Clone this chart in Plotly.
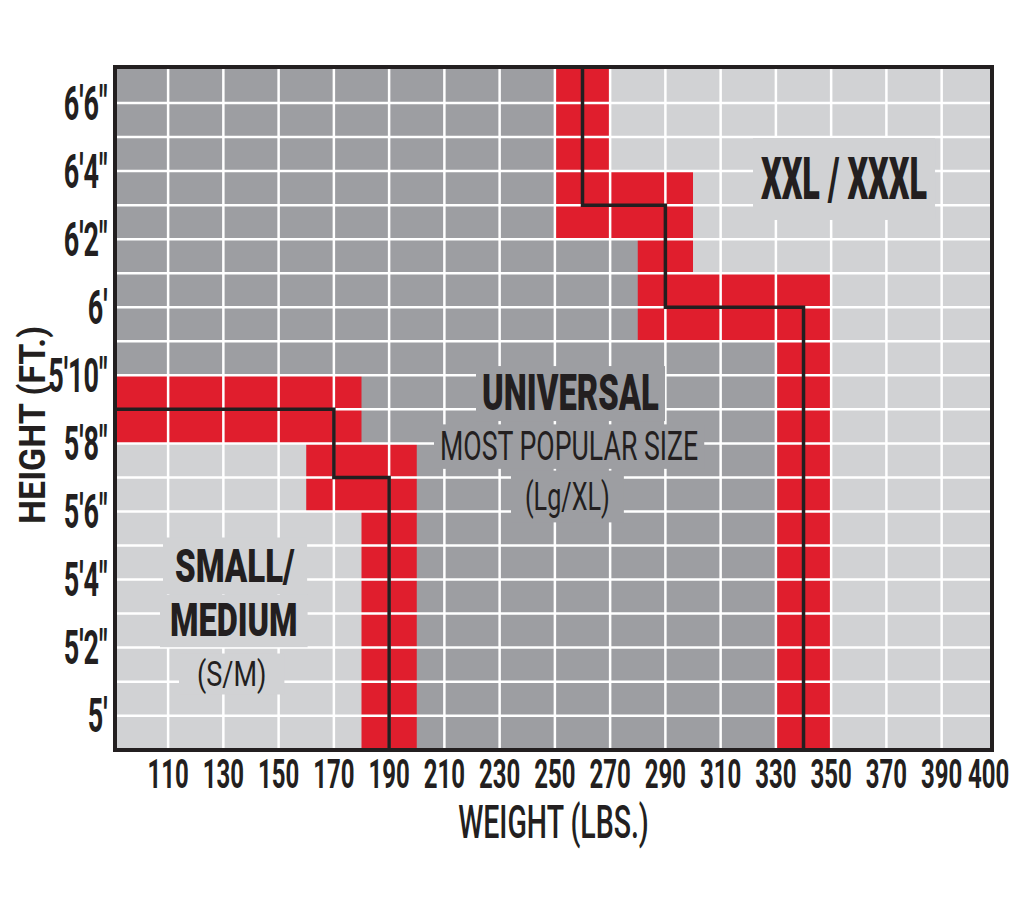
import json
import plotly.graph_objects as go

# ---------------- data ----------------
# axis extents (lbs / inches)
W_MIN, W_MAX = 91.5, 407.5
H_MIN, H_MAX = 59.05, 79.0

weight_ticks = [110, 130, 150, 170, 190, 210, 230, 250, 270, 290, 310, 330, 350, 370, 390, 407]
weight_tick_labels = ["110", "130", "150", "170", "190", "210", "230", "250", "270", "290",
                      "310", "330", "350", "370", "390", "400"]
height_ticks = [60, 62, 64, 66, 68, 70, 72, 74, 76, 78]
height_tick_labels = ["5'", "5'2\"", "5'4\"", "5'6\"", "5'8\"", "5'10\"", "6'", "6'2\"", "6'4\"", "6'6\""]

grid_weights = [110, 130, 150, 170, 190, 210, 230, 250, 270, 290, 310, 330, 350, 370, 390]
grid_heights = [60, 61, 62, 63, 64, 65, 66, 67, 68, 69, 70, 71, 72, 73, 74, 75, 76, 77, 78]

# size boundaries (weight lbs, height inches)
sm_line_w = [90, 170, 170, 190, 190]
sm_line_h = [69, 69, 67, 67, 59]
xxl_line_w = [260, 260, 290, 290, 340, 340]
xxl_line_h = [79, 75, 75, 72, 72, 59]

# red transition bands: weight from/to, height from/to
red_w0 = [90, 160, 180, 250, 250, 280, 280, 330]
red_w1 = [180, 200, 200, 270, 300, 300, 350, 350]
red_h0 = [68, 66, 59, 74, 74, 71, 71, 59]
red_h1 = [70, 68, 66, 79, 76, 76, 73, 73]

# region labels
label_texts = ["SMALL/", "MEDIUM", "(S/M)", "XXL / XXXL", "UNIVERSAL", "MOST POPULAR SIZE", "(Lg/XL)"]
label_w = [134.2, 133.7, 133.1, 354.8, 255.5, 255.1, 254.4]
label_h = [64.37, 62.77, 61.23, 75.77, 69.47, 67.92, 66.43]

# ---------------- style ----------------
DARK = "#9d9ea2"
LIGHT = "#d1d2d4"
RED = "#e01e2d"
INK = "#231f20"
FONT = "Roboto, Liberation Sans, sans-serif"

label_size = [33, 32.5, 27, 32.4, 32.8, 26.7, 25.2]
label_weight = [900, 900, 400, 900, 900, 400, 400]
label_bg = [LIGHT, LIGHT, LIGHT, LIGHT, DARK, DARK, DARK]
label_stretch = [1.4, 1.4, 1.3, 1.82, 1.5, 1.5, 1.55]   # vertical stretch (tall lettering)
label_pad_px = [[12, 12], [10, 10], [18, 8], [8, 20], [6, 10], [6, 8], [14, 12]]

fig = go.Figure()

# S/M light region (below / left of boundary)
fig.add_trace(go.Scatter(
    x=sm_line_w + [sm_line_w[0]], y=sm_line_h + [sm_line_h[-1]],
    fill="toself", fillcolor=LIGHT, mode="none", hoverinfo="skip", showlegend=False))

# XXL light region (right / above boundary)
fig.add_trace(go.Scatter(
    x=xxl_line_w + [W_MAX + 5, W_MAX + 5], y=xxl_line_h + [xxl_line_h[-1], xxl_line_h[0]],
    fill="toself", fillcolor=LIGHT, mode="none", hoverinfo="skip", showlegend=False))

# red bands
rx, ry = [], []
for w0, w1, h0, h1 in zip(red_w0, red_w1, red_h0, red_h1):
    rx += [w0, w1, w1, w0, w0, None]
    ry += [h0, h0, h1, h1, h0, None]
fig.add_trace(go.Scatter(x=rx, y=ry, fill="toself", fillcolor=RED, mode="none",
                         hoverinfo="skip", showlegend=False))

# white grid
gx, gy = [], []
for w in grid_weights:
    gx += [w, w, None]
    gy += [H_MIN - 1, H_MAX + 1, None]
for h in grid_heights:
    gx += [W_MIN - 5, W_MAX + 5, None]
    gy += [h, h, None]
fig.add_trace(go.Scatter(x=gx, y=gy, mode="lines", line=dict(color="white", width=2.5),
                         hoverinfo="skip", showlegend=False))

# boundary lines
for lw, lh in [(sm_line_w, sm_line_h), (xxl_line_w, xxl_line_h)]:
    fig.add_trace(go.Scatter(x=lw, y=lh, mode="lines", line=dict(color=INK, width=3.5),
                             hoverinfo="skip", showlegend=False))

# ---------------- labels ----------------
for txt, x, y, sz, wt, bg in zip(label_texts, label_w, label_h, label_size, label_weight, label_bg):
    fig.add_annotation(x=x, y=y, xref="x", yref="y", text=txt, showarrow=False,
                       font=dict(family=FONT, size=sz, color=INK, weight=wt),
                       bgcolor=bg, borderpad=0)

# y axis title (rotated)
fig.add_annotation(x=-0.0974, y=0.4757, xref="paper", yref="paper", text="HEIGHT (FT.)",
                   textangle=-90, showarrow=False, xanchor="center", yanchor="middle",
                   font=dict(family=FONT, size=34, color=INK, weight=700))

fig.update_layout(
    width=1024, height=924,
    margin=dict(l=109, r=42, t=61, b=184),
    paper_bgcolor="white", plot_bgcolor=DARK,
    font=dict(family=FONT, color=INK),
    xaxis=dict(range=[W_MIN, W_MAX], tickvals=weight_ticks, ticktext=weight_tick_labels,
               showgrid=False, zeroline=False, ticks="", tickangle=0, automargin=False,
               showline=True, mirror=True, linewidth=4, linecolor=INK,
               tickfont=dict(family=FONT, size=24, color=INK, weight=700),
               ticklabelstandoff=1,
               title=dict(text="WEIGHT (LBS.)", standoff=26,
                          font=dict(family=FONT, size=28.5, color=INK, weight=500))),
    yaxis=dict(range=[H_MIN, H_MAX], tickvals=height_ticks, ticktext=height_tick_labels,
               showgrid=False, zeroline=False, ticks="", automargin=False,
               showline=True, mirror=True, linewidth=4, linecolor=INK,
               tickfont=dict(family=FONT, size=27, color=INK, weight=700),
               ticklabelstandoff=0),
)

# tall, compressed-looking lettering as in the reference: stretch glyphs vertically
cfg = {
    "xtick": 1.7, "ytick": 1.8, "xtitle": 1.6,
    "ann_k": label_stretch + [1.1],
    "ann_pad": label_pad_px + [None],
}
post = """
var gd = document.querySelector('.js-plotly-plot');
var CFG = %s;
function stretch(t, k, fix){
  if (!t || !(k > 0)) return null;
  var r0 = t.getBoundingClientRect();
  var b = t.getBBox();
  var yc = b.y + b.height / 2;
  var old = t.getAttribute('transform') || '';
  var tail = ' translate(0,' + yc + ') scale(1,' + k + ') translate(0,' + (-yc) + ')';
  t.setAttribute('transform', old + tail);
  var dy = 0;
  if (fix) {
    var r1 = t.getBoundingClientRect();
    dy = ((r0.top + r0.bottom) - (r1.top + r1.bottom)) / 2;
    if (Math.abs(dy) > 0.3) {
      t.setAttribute('transform', 'translate(0,' + dy + ') ' + old + tail);
    } else { dy = 0; }
  }
  return {b: b, yc: yc + dy};
}
gd.querySelectorAll('.xtick text').forEach(function(t){ stretch(t, CFG.xtick, true); });
gd.querySelectorAll('.ytick text').forEach(function(t){ stretch(t, CFG.ytick, true); });
gd.querySelectorAll('.g-xtitle text').forEach(function(t){ stretch(t, CFG.xtitle, true); });
gd.querySelectorAll('g.annotation').forEach(function(g){
  var i = +g.getAttribute('data-index');
  var t = g.querySelector('text.annotation-text');
  var r = g.querySelector('rect.bg');
  var k = CFG.ann_k[i];
  var p = CFG.ann_pad[i];
  var s = stretch(t, k, !!p);
  if (s && r && p) {
    var fs = parseFloat(t.style.fontSize);
    var capH = 0.711 * fs * k;
    r.setAttribute('x', s.b.x - p[0]);
    r.setAttribute('width', s.b.width + 2 * p[0]);
    r.setAttribute('y', s.yc - capH / 2 - p[1]);
    r.setAttribute('height', capH + 2 * p[1]);
  }
});
""" % json.dumps(cfg)

fig.write_html("out.html", post_script=post)
